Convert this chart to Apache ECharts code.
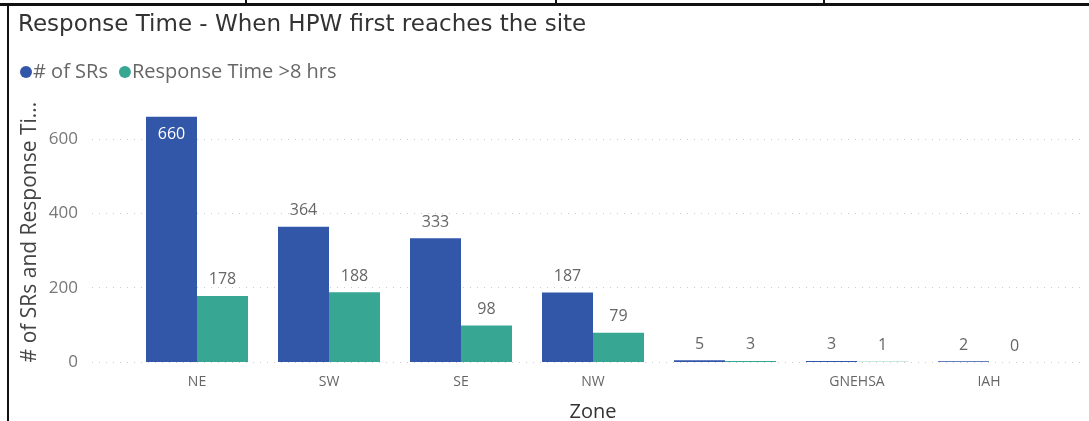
<!DOCTYPE html>
<html>
<head>
<meta charset="utf-8">
<script src="https://cdn.jsdelivr.net/npm/echarts@6/dist/echarts.min.js"></script>
<style>
html,body{margin:0;padding:0;background:#fff;}
#main{width:1089px;height:421px;}
</style>
</head>
<body>
<div id="main"></div>
<script>
// 数据
var zones = ['NE', 'SW', 'SE', 'NW', '', 'GNEHSA', 'IAH'];
var srCount = [660, 364, 333, 187, 5, 3, 2];
var over8hrs = [178, 188, 98, 79, 3, 1, 0];
var yTicks = [0, 200, 400, 600];

let myChart = echarts.init(document.getElementById('main'));

var fontFam = '"Open Sans", "Noto Sans", sans-serif';

let option = {
    animation: false,
    textStyle: {
        fontFamily: fontFam
    },
    title: {
        text: 'Response Time - When HPW first reaches the site',
        left: 13,
        top: 9,
        textStyle: {
            fontSize: 23,
            fontWeight: 'normal',
            color: '#333',
            fontFamily: '"DejaVu Sans", sans-serif'
        }
    },
    legend: {
        left: 15,
        top: 57,
        icon: 'circle',
        itemWidth: 12,
        itemHeight: 12,
        itemGap: 11,
        textStyle: {
            fontSize: 20,
            color: '#666',
            padding: [0, 0, 0, -4]
        },
        data: ['# of SRs', 'Response Time >8 hrs']
    },
    grid: [
        // 柱子
        { left: 131, right: 34, top: 102, bottom: 59, outerBoundsMode: 'none', containLabel: false },
        // 格線 (較寬, 只到600)
        { left: 92, right: 4, top: 139, bottom: 59, outerBoundsMode: 'none', containLabel: false }
    ],
    xAxis: [
        {
            type: 'category',
            gridIndex: 0,
            data: zones,
            axisLine: { show: false },
            axisTick: { show: false },
            axisLabel: { color: '#666', fontSize: 14, margin: 13 },
            name: 'Zone',
            nameLocation: 'middle',
            nameGap: 40,
            nameTextStyle: { color: '#333', fontSize: 20 }
        },
        {
            type: 'category',
            gridIndex: 1,
            data: zones,
            show: false
        }
    ],
    yAxis: [
        {
            type: 'value',
            gridIndex: 0,
            min: 0,
            max: 700,
            interval: 100,
            axisLine: { show: false },
            axisTick: { show: false },
            axisLabel: { show: false },
            splitLine: { show: false },
            name: '# of SRs and Response Ti...',
            nameLocation: 'middle',
            nameGap: 90,
            nameTextStyle: { color: '#444', fontSize: 21 }
        },
        {
            type: 'value',
            gridIndex: 1,
            min: 0,
            max: 600,
            interval: 200,
            axisLine: { show: false },
            axisTick: { show: false },
            axisLabel: {
                color: '#777',
                fontSize: 17,
                margin: 14,
                formatter: function (v) {
                    return yTicks.indexOf(v) >= 0 ? v : '';
                }
            },
            splitLine: {
                lineStyle: { color: '#ccc', type: [1, 6], width: 1 }
            }
        }
    ],
    series: [
        {
            name: '# of SRs',
            type: 'bar',
            xAxisIndex: 0,
            yAxisIndex: 0,
            data: srCount.map(function (v, i) {
                if (i === 0) {
                    return { value: v, label: { position: 'insideTop', color: '#fff', distance: 10 } };
                }
                return v;
            }),
            barWidth: 51,
            barGap: '0%',
            itemStyle: { color: '#3256A8' },
            label: {
                show: true,
                position: 'top',
                distance: 8,
                color: '#666',
                fontSize: 16
            }
        },
        {
            name: 'Response Time >8 hrs',
            type: 'bar',
            xAxisIndex: 0,
            yAxisIndex: 0,
            data: over8hrs,
            barWidth: 51,
            barGap: '0%',
            itemStyle: { color: '#37A793' },
            label: {
                show: true,
                position: 'top',
                distance: 8,
                color: '#666',
                fontSize: 16
            }
        }
    ],
    graphic: [
        // 外框線
        { type: 'rect', shape: { x: 0, y: 3, width: 1089, height: 3 }, style: { fill: '#111' } },
        { type: 'rect', shape: { x: 7, y: 3, width: 2, height: 418 }, style: { fill: '#111' } },
        { type: 'rect', shape: { x: 245, y: 0, width: 2, height: 4 }, style: { fill: '#111' } },
        { type: 'rect', shape: { x: 555, y: 0, width: 2, height: 4 }, style: { fill: '#111' } },
        { type: 'rect', shape: { x: 823, y: 0, width: 2, height: 4 }, style: { fill: '#111' } }
    ]
};

myChart.setOption(option);

window.onresize = function () {
    myChart.resize();
}
</script>
</body>
</html>
